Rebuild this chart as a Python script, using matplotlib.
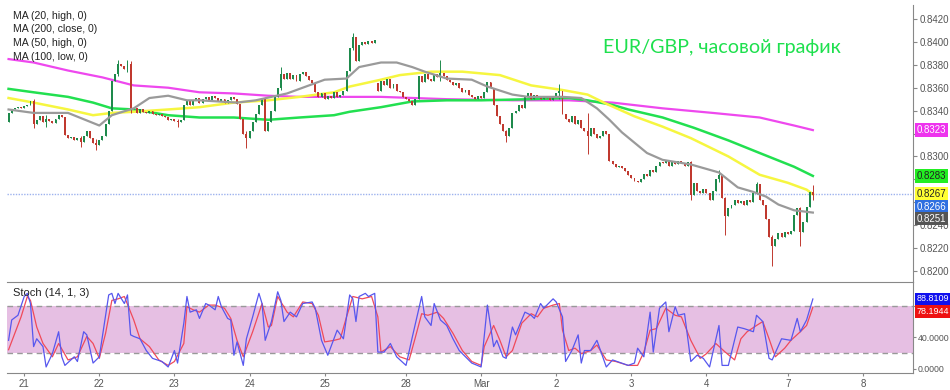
import numpy as np
import matplotlib.pyplot as plt

plt.rcParams['font.family'] = ['Liberation Sans', 'DejaVu Sans']

# hourly closes, in pips (0.0001)
closes = [
    8338, 8341, 8342, 8343, 8342, 8344, 8345, 8348, 8328, 8332, 8335, 8330,
    8333, 8331, 8329, 8333, 8336, 8334, 8319, 8316, 8317, 8314, 8316, 8313,
    8318, 8322, 8316, 8312, 8310, 8314, 8318, 8328, 8340, 8366, 8372, 8381,
    8379, 8376, 8381, 8341, 8342, 8338, 8341, 8339, 8338, 8340, 8337, 8336,
    8337, 8335, 8334, 8332, 8333, 8331, 8330, 8332, 8345, 8349, 8345, 8349,
    8351, 8347, 8350, 8352, 8349, 8353, 8351, 8348, 8350, 8347, 8349, 8352,
    8350, 8346, 8333, 8320, 8316, 8322, 8330, 8337, 8345, 8350, 8322, 8330,
    8340, 8352, 8360, 8372, 8368, 8373, 8368, 8371, 8366, 8372, 8374, 8370,
    8367, 8364, 8356, 8352, 8355, 8350, 8353, 8351, 8356, 8352, 8354, 8357,
    8375, 8395, 8404, 8383, 8397, 8400, 8398, 8401, 8399, 8402, 8357, 8366,
    8362, 8368, 8360, 8363, 8357, 8356, 8352, 8350, 8348, 8345, 8350, 8370,
    8365, 8372, 8368, 8366, 8372, 8369, 8373, 8370, 8367, 8365, 8362, 8364,
    8360, 8356, 8358, 8354, 8352, 8350, 8353, 8351, 8356, 8365, 8360, 8345,
    8335, 8328, 8322, 8318, 8325, 8338, 8340, 8345, 8342, 8352, 8355, 8350,
    8354, 8352, 8350, 8353, 8351, 8349, 8352, 8355, 8357, 8337, 8333, 8330,
    8335, 8328, 8332, 8325, 8322, 8318, 8325, 8320, 8316, 8318, 8322, 8320,
    8296, 8293, 8291, 8292, 8290, 8287, 8284, 8281, 8279, 8278, 8280, 8285,
    8283, 8288, 8286, 8292, 8295, 8294, 8297, 8292, 8295, 8293, 8296, 8294,
    8292, 8295, 8266, 8277, 8270, 8268, 8272, 8268, 8262, 8270, 8280, 8284,
    8264, 8248, 8255, 8258, 8262, 8259, 8261, 8258, 8262, 8260, 8268, 8276,
    8262, 8258, 8245, 8230, 8222, 8228, 8233, 8230, 8234, 8232, 8235, 8249,
    8255, 8234, 8243, 8256, 8269, 8266,
]
# opens that are not the previous close
open_gaps = {0: 8330, 118: 8364}
# visible long wicks: index -> (high, low)
wicks = {
    8: (8350, 8325), 12: (8336, 8326), 23: (8318, 8308), 28: (8315, 8306),
    35: (8384, 8370), 38: (8384, 8374), 39: (8383, 8338), 54: (8333, 8326),
    76: (8322, 8307), 87: (8378, 8358), 110: (8408, 8393), 138: (8384, 8366),
    159: (8323, 8313), 176: (8363, 8350), 185: (8338, 8302), 218: (8296, 8262),
    227: (8288, 8278), 229: (8265, 8231), 239: (8278, 8267), 244: (8231, 8204),
    253: (8256, 8222), 257: (8275, 8262),
}

# moving averages (candle index, pips)
ma20_x = [0, 8, 19, 29, 33, 40, 45, 51, 57, 61, 73, 79, 84, 89, 95, 101, 108, 112, 119,
          124, 129, 133, 140, 148, 153, 161, 166, 177, 183, 188, 192, 196, 200, 204, 209,
          218, 227, 233, 238, 242, 246, 251, 257]
ma20 = [8341, 8338, 8338, 8327, 8336, 8342, 8351, 8353, 8349, 8349, 8347, 8349, 8352, 8355,
        8361, 8367, 8368, 8378, 8382, 8382, 8378, 8374, 8368, 8367, 8361, 8354, 8352, 8352,
        8351, 8342, 8332, 8321, 8312, 8303, 8297, 8293, 8286, 8273, 8269, 8265, 8258, 8253,
        8251]
ma50_x = [0, 8, 19, 27, 33, 40, 51, 61, 72, 83, 93, 104, 109, 119, 125, 135, 145, 157, 167,
          177, 185, 191, 200, 209, 218, 230, 240, 249, 255, 257]
ma50 = [8351, 8347, 8341, 8336, 8338, 8339, 8341, 8343, 8347, 8349, 8352, 8356, 8361, 8367,
        8371, 8374, 8374, 8371, 8362, 8358, 8354, 8346, 8335, 8326, 8316, 8300, 8284, 8277,
        8271, 8267]
ma100_x = [0, 8, 19, 27, 33, 40, 51, 61, 72, 83, 93, 104, 109, 119, 129, 140, 151, 167, 179,
           185, 193, 198, 209, 219, 230, 240, 251, 257]
ma100 = [8359, 8356, 8352, 8347, 8342, 8341, 8336, 8334, 8334, 8332, 8334, 8336, 8339, 8343,
         8348, 8349, 8349, 8350, 8351, 8349, 8345, 8341, 8334, 8325, 8314, 8303, 8291, 8283]
ma200_x = [0, 8, 19, 30, 40, 51, 61, 72, 83, 93, 119, 140, 161, 179, 193, 209, 225, 240,
           251, 257]
ma200 = [8385, 8382, 8375, 8369, 8362, 8360, 8356, 8355, 8353, 8352, 8352, 8350, 8349, 8349,
         8347, 8342, 8338, 8334, 8327, 8323]

# stochastic %K (blue) and %D (red)
stk_x = [0, 1, 3, 5, 6, 7, 8, 9, 11, 12, 14, 16, 17, 18, 21, 22, 24, 25, 27, 29, 32, 33, 34,
         35, 37, 38, 39, 40, 42, 44, 46, 49, 51, 53, 54, 56, 57, 58, 60, 61, 63, 64, 66, 67,
         68, 70, 71, 72, 73, 75, 76, 78, 80, 81, 82, 84, 86, 87, 88, 90, 92, 94, 97, 98, 100,
         102, 105, 107, 109, 110, 111, 112, 114, 115, 117, 118, 120, 122, 124, 127, 129, 132,
         133, 135, 136, 138, 140, 142, 144, 148, 151, 153, 155, 156, 158, 159, 161, 162, 165,
         167, 168, 170, 171, 174, 175, 177, 178, 180, 182, 183, 184, 186, 188, 191, 193, 198,
         200, 201, 203, 205, 206, 208, 210, 211, 213, 214, 216, 218, 220, 222, 224, 227, 228,
         230, 233, 235, 238, 239, 241, 243, 244, 247, 250, 252, 253, 255, 257]
stk = [36, 62, 68, 92, 96, 83, 28, 38, 28, 2, 19, 47, 15, 4, 15, 9, 47, 43, 7, 15, 94, 96, 83,
       96, 83, 94, 43, 41, 38, 23, 13, 9, 2, 23, 7, 58, 92, 72, 75, 64, 83, 81, 75, 92, 79, 64,
       62, 17, 34, 4, 38, 66, 96, 83, 36, 60, 98, 87, 60, 72, 66, 83, 85, 77, 36, 17, 49, 38,
       94, 89, 60, 92, 96, 92, 96, 21, 21, 32, 15, 4, 40, 92, 66, 55, 83, 62, 55, 38, 23, 7,
       2, 81, 28, 36, 15, 13, 53, 43, 72, 68, 64, 83, 77, 89, 85, 66, 9, 23, 43, 7, 23, 23,
       36, 2, 11, 4, 7, 26, 15, 72, 21, 77, 85, 47, 79, 68, 70, 9, 17, 13, 2, 55, 4, 4, 53,
       51, 47, 68, 60, 13, 11, 38, 36, 64, 47, 62, 88.81]
std_x = [0, 4, 6, 7, 9, 11, 14, 16, 19, 22, 25, 27, 29, 31, 33, 35, 37, 40, 42, 45, 48, 51,
         53, 56, 57, 59, 61, 64, 66, 69, 71, 73, 75, 78, 81, 83, 84, 86, 89, 91, 94, 97, 99,
         101, 104, 106, 108, 110, 113, 116, 118, 119, 122, 125, 128, 130, 132, 134, 137, 139,
         142, 145, 148, 151, 152, 155, 157, 159, 161, 164, 167, 169, 171, 174, 176, 177, 179,
         181, 183, 186, 188, 191, 194, 198, 201, 203, 205, 207, 210, 213, 215, 218, 221, 223,
         226, 229, 232, 234, 236, 239, 241, 243, 245, 248, 250, 253, 255, 257]
std = [24, 66, 92, 87, 53, 32, 15, 32, 11, 15, 41, 32, 13, 45, 87, 89, 92, 62, 38, 28, 11,
       4, 9, 32, 79, 75, 72, 81, 81, 77, 64, 36, 15, 47, 83, 53, 55, 92, 72, 66, 85, 83, 68,
       34, 36, 38, 66, 92, 89, 92, 66, 21, 28, 15, 11, 40, 70, 68, 72, 64, 45, 23, 9, 4, 28,
       55, 36, 15, 23, 58, 70, 66, 77, 81, 83, 49, 23, 26, 19, 23, 30, 11, 9, 4, 4, 21, 49,
       51, 77, 68, 66, 36, 13, 19, 32, 21, 11, 38, 47, 55, 60, 38, 15, 26, 36, 47, 55, 78.19]

day_pos = [5, 29, 53, 77, 101, 127, 151, 175, 199, 223, 249, 273]
day_lbl = ['21', '22', '23', '24', '25', '28', 'Mar', '2', '3', '4', '7', '8']
price_ticks = [0.8200, 0.8220, 0.8240, 0.8260, 0.8280, 0.8300, 0.8320, 0.8340, 0.8360,
               0.8380, 0.8400, 0.8420]
# labels hidden behind the price tags on the chart
hidden_ticks = [0.8260, 0.8280, 0.8320]

c = np.array(closes) / 1e4
o = np.r_[closes[0], closes[:-1]].astype(float)
for k, v in open_gaps.items():
    o[k] = v
o = o / 1e4
hi = np.maximum(o, c)
lo = np.minimum(o, c)
for k, (h, l) in wicks.items():
    hi[k] = h / 1e4
    lo[k] = l / 1e4
idx = np.arange(len(c))
up = c >= o

fig = plt.figure(figsize=(9.5, 3.9), dpi=100)
ax1 = fig.add_axes([7 / 950, 1 - 282 / 390, 906 / 950, 277 / 390])
ax2 = fig.add_axes([7 / 950, 1 - 373 / 390, 906 / 950, 91 / 390], sharex=ax1)

green, red = '#1e8a4c', '#c0392f'
cols = np.where(up, green, red)
ax1.vlines(idx, lo, hi, colors=cols, lw=0.7, zorder=3)
ax1.bar(idx, np.maximum(np.abs(c - o), 0.00006), bottom=np.minimum(o, c), width=0.62,
        color=cols, zorder=4)

ax1.plot(ma200_x, np.array(ma200) / 1e4, color='#ee48ee', lw=1.6, zorder=2)
ax1.plot(ma100_x, np.array(ma100) / 1e4, color='#22e050', lw=1.8, zorder=2)
ax1.plot(ma50_x, np.array(ma50) / 1e4, color='#f6f640', lw=1.8, zorder=2)
ax1.plot(ma20_x, np.array(ma20) / 1e4, color='#9a9a9a', lw=1.6, zorder=5)
ax1.axhline(0.8267, color='#9db2ee', ls=(0, (1, 1)), lw=1, zorder=1)

ax1.set_xlim(-0.5, 289)
ax1.set_ylim(0.81904, 0.84322)
ax1.yaxis.tick_right()
ax1.set_yticks(price_ticks)
ax1.set_yticklabels(['' if t in hidden_ticks else f'{t:.4f}' for t in price_ticks])
for s in ['top', 'left', 'bottom']:
    ax1.spines[s].set_visible(False)
ax1.spines['right'].set_color('#888888')
ax1.tick_params(axis='y', length=3, color='#888888', labelcolor='#555555', labelsize=7, pad=2)
ax1.tick_params(axis='x', bottom=False, labelbottom=False)


def tag(ax, y, text, fc, tc, dy=0, fs=7):
    ax.annotate(text, xy=(1, y), xycoords=('axes fraction', 'data'), xytext=(2.5, dy),
                textcoords='offset points', va='center', ha='left', fontsize=fs, color=tc,
                bbox=dict(boxstyle='square,pad=0.2', fc=fc, ec='none'),
                annotation_clip=False, zorder=10)


tag(ax1, 0.8323, '0.8323', '#ee33ee', 'white')
tag(ax1, 0.8283, '0.8283', '#22ee22', '#222222')
tag(ax1, 0.8267, '0.8267', '#ffff33', '#222222')
tag(ax1, 0.8266, '0.8266', '#2f6fe0', 'white', dy=-8.6)
tag(ax1, 0.8251, '0.8251', '#555555', 'white', dy=-4.3)

# stochastic panel
ax2.axhspan(20, 80, color='#e6bfe3', lw=0, zorder=0)
ax2.axhline(80, color='#999999', ls=(0, (4, 3)), lw=1, zorder=1)
ax2.axhline(20, color='#999999', ls=(0, (4, 3)), lw=1, zorder=1)
ax2.plot(stk_x, stk, color='#5757ee', lw=0.9, zorder=3)
ax2.plot(std_x, std, color='#f04a5a', lw=0.9, zorder=2)
ax2.set_ylim(-5.7, 110.5)
ax2.yaxis.tick_right()
ax2.set_yticks([0, 40, 80])
ax2.set_yticklabels(['0.0000', '40.0000', ''])
ax2.spines['left'].set_visible(False)
for s in ['top', 'bottom', 'right']:
    ax2.spines[s].set_color('#888888')
ax2.tick_params(axis='y', length=2.5, color='#888888', labelcolor='#555555', labelsize=6.3, pad=1)
ax2.set_xticks(day_pos)
ax2.set_xticklabels(day_lbl)
ax2.tick_params(axis='x', length=2, color='#888888', labelcolor='#555555', labelsize=7, pad=2)
ax2.text(0.0066, 0.88, 'Stoch (14, 1, 3)', transform=ax2.transAxes, fontsize=8,
         color='#222222', va='center')
tag(ax2, 88.81, '88.8109', '#1010ee', 'white', fs=6.5)
tag(ax2, 78.19, '78.1944', '#ee1111', 'white', dy=-3, fs=6.5)

legend_lines = ['MA (20, high, 0)', 'MA (200, close, 0)', 'MA (50, high, 0)', 'MA (100, low, 0)']
for n, t in enumerate(legend_lines):
    fig.text(13 / 950, 1 - (16 + 13.5 * n) / 390, t, fontsize=7.6, color='#222222', va='center')

fig.text(603 / 950, 1 - 48 / 390, 'EUR/GBP, часовой график', fontsize=14.2, color='#1ee04e',
         va='center', family=['Lato', 'DejaVu Sans'])

fig.savefig('out.png', dpi=100)
